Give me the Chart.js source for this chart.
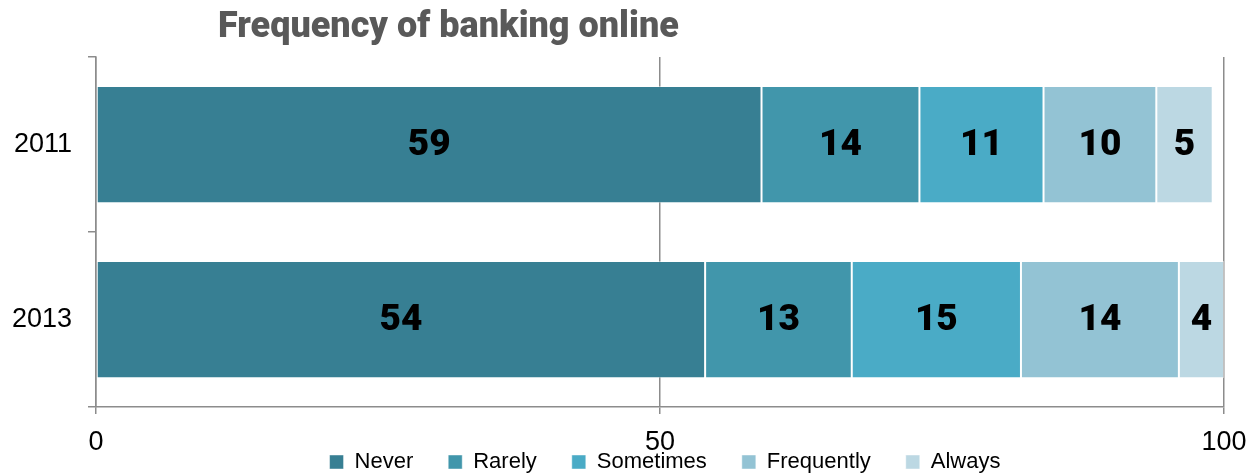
<!DOCTYPE html>
<html>
<head>
<meta charset="utf-8">
<script src="https://cdn.jsdelivr.net/npm/chart.js@4"></script>
<style>
    body { margin: 0; background: #fff; }
    #wrap { position: relative; width: 1249px; height: 475px; }
    #title {
        position: absolute; left: 218px; top: 4px;
        font-family: 'Roboto', 'DejaVu Sans', sans-serif; font-weight: 900;
        font-size: 36px; color: #595959; white-space: nowrap;
    }
</style>
</head>
<body>
<div id="wrap">
    <canvas id="chart" width="1249" height="475"></canvas>
    <div id="title">Frequency of banking online</div>
</div>
<script>
// --- Data ---
const years = ['2011', '2013'];
const seriesNames = ['Never', 'Rarely', 'Sometimes', 'Frequently', 'Always'];
const never = [59, 54];
const rarely = [14, 13];
const sometimes = [11, 15];
const frequently = [10, 14];
const always = [5, 4];
const xTicks = [0, 50, 100];

const colors = ['#377f93', '#4196ab', '#4aabc6', '#93c3d4', '#bcd8e3'];
const seriesValues = [never, rarely, sometimes, frequently, always];

const LEGEND_GAP = 35;

// --- Plugins ---
const barLabels = {
    id: 'barLabels',
    afterDatasetsDraw(chart) {
        const ctx = chart.ctx;
        ctx.save();
        ctx.font = "900 37px 'Roboto', 'DejaVu Sans', sans-serif";
        ctx.fillStyle = '#000';
        ctx.textAlign = 'center';
        ctx.textBaseline = 'middle';
        chart.data.datasets.forEach((ds, i) => {
            chart.getDatasetMeta(i).data.forEach((bar, j) => {
                const p = bar.getProps(['x', 'y', 'base'], true);
                ctx.fillText(ds.data[j], (p.x + p.base) / 2, p.y + 1);
            });
        });
        ctx.restore();
    }
};

// legend: keep it one text line high, centre it under the plot area
const legendFix = {
    id: 'legendFix',
    beforeLayout(chart) {
        const lg = chart.legend;
        if (lg && !lg._fitPatched) {
            const fit = lg.fit.bind(lg);
            lg.fit = function () { fit(); this.height = 24; };
            lg._fitPatched = true;
        }
    },
    afterLayout(chart) {
        const lg = chart.legend, ca = chart.chartArea;
        const dx = (ca.left + ca.right) / 2 + 5 - (lg.left + lg.right) / 2;
        lg.left += dx; lg.right += dx;
        // items are drawn at top + padding, so lift the top only
        lg.top -= LEGEND_GAP;
    }
};

new Chart(document.getElementById('chart'), {
    type: 'bar',
    data: {
        labels: years,
        datasets: seriesNames.map((name, i) => ({
            label: name,
            data: seriesValues[i],
            backgroundColor: colors[i],
            borderColor: 'rgba(255,255,255,0.45)',
            borderWidth: 1,
            borderSkipped: false,
            categoryPercentage: 1,
            barPercentage: 0.67
        }))
    },
    options: {
        indexAxis: 'y',
        responsive: false,
        animation: false,
        layout: { padding: { top: 57, right: 25, left: 0, bottom: 0 } },
        plugins: {
            legend: {
                position: 'bottom',
                labels: {
                    boxWidth: 14, boxHeight: 14, padding: LEGEND_GAP,
                    color: '#000',
                    font: { family: "'Liberation Sans Narrow', 'Liberation Sans', sans-serif", size: 22 }
                }
            },
            tooltip: { enabled: false }
        },
        scales: {
            x: {
                stacked: true, min: 0, max: 100,
                afterBuildTicks: s => { s.ticks = xTicks.map(v => ({ value: v })); },
                afterFit: s => { s.height = 44; s.paddingLeft = 0; s.paddingRight = 0; },
                ticks: {
                    color: '#000', padding: 12, maxRotation: 0,
                    font: { family: "'Liberation Sans', sans-serif", size: 27 }
                },
                grid: { color: '#8c8c8c', lineWidth: 1.5, tickLength: 7 },
                border: { color: '#8c8c8c', width: 1.5 }
            },
            y: {
                stacked: true,
                afterFit: s => { s.width = 96; },
                ticks: {
                    color: '#000', padding: 16,
                    font: { family: "'Liberation Sans', sans-serif", size: 27 }
                },
                grid: { drawOnChartArea: false, color: '#8c8c8c', lineWidth: 1.5, tickLength: 8 },
                border: { color: '#8c8c8c', width: 1.5 }
            }
        }
    },
    plugins: [barLabels, legendFix]
});
</script>
</body>
</html>
